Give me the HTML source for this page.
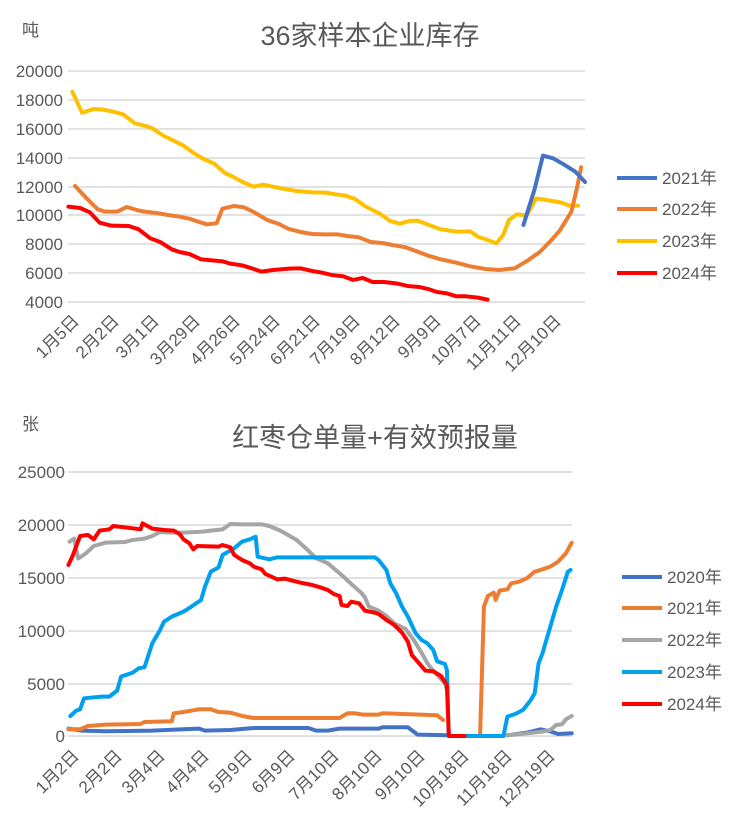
<!DOCTYPE html>
<html><head><meta charset="utf-8"><style>
body{margin:0;background:#fff;}
svg{display:block;font-family:"Liberation Sans","Noto Sans CJK SC",sans-serif;}
.t{fill:#595959;}
.g line{stroke:#d9d9d9;stroke-width:1.5}
polyline{fill:none;stroke-width:4;stroke-linejoin:round;stroke-linecap:round}
</style></head><body>
<svg width="746" height="830" viewBox="0 0 746 830">
<rect width="746" height="830" fill="#fff"/>
<!-- Chart 1 -->
<text class="t" x="370" y="45" font-size="27" text-anchor="middle">36家样本企业库存</text>
<text class="t" x="22" y="36" font-size="17">吨</text>
<g class="g">
<line x1="68" x2="585" y1="71" y2="71"/><line x1="68" x2="585" y1="100" y2="100"/><line x1="68" x2="585" y1="129" y2="129"/><line x1="68" x2="585" y1="158" y2="158"/><line x1="68" x2="585" y1="187" y2="187"/><line x1="68" x2="585" y1="215" y2="215"/><line x1="68" x2="585" y1="244" y2="244"/><line x1="68" x2="585" y1="273" y2="273"/><line x1="68" x2="585" y1="302" y2="302"/>
</g>
<g class="t" font-size="17" text-anchor="end">
<text x="63" y="77">20000</text><text x="63" y="106">18000</text><text x="63" y="135">16000</text><text x="63" y="164">14000</text><text x="63" y="193">12000</text><text x="63" y="221">10000</text><text x="63" y="250">8000</text><text x="63" y="279">6000</text><text x="63" y="308">4000</text>
</g>
<g class="t" font-size="17" text-anchor="end">
<text transform="translate(80,322) rotate(-45)">1月5日</text>
<text transform="translate(120,322) rotate(-45)">2月2日</text>
<text transform="translate(160,322) rotate(-45)">3月1日</text>
<text transform="translate(201,322) rotate(-45)">3月29日</text>
<text transform="translate(241,322) rotate(-45)">4月26日</text>
<text transform="translate(281,322) rotate(-45)">5月24日</text>
<text transform="translate(321,322) rotate(-45)">6月21日</text>
<text transform="translate(361,322) rotate(-45)">7月19日</text>
<text transform="translate(401,322) rotate(-45)">8月12日</text>
<text transform="translate(442,322) rotate(-45)">9月9日</text>
<text transform="translate(482,322) rotate(-45)">10月7日</text>
<text transform="translate(522,322) rotate(-45)">11月11日</text>
<text transform="translate(562,322) rotate(-45)">12月10日</text>
</g>
<g transform="translate(-11.5,60) scale(0.3899,0.3333)">
<polyline vector-effect="non-scaling-stroke" stroke="#ffc000" points="215,95 240,158 270,147 290,148 320,155 345,163 375,190 400,197 420,205 450,228 475,242 500,257 525,278 550,296 580,312 605,338 630,352 655,368 680,380 705,374 730,380 760,387 790,393 830,397 865,398 890,403 915,407 940,417 965,438 990,453 1005,462 1030,483 1055,491 1080,483 1100,482 1130,495 1160,508 1200,515 1235,514 1255,530 1280,540 1303,550 1320,525 1335,480 1355,463 1380,467 1405,415 1440,422 1470,428 1490,437 1512,437"/>
<polyline vector-effect="non-scaling-stroke" stroke="#ed7d31" points="222,378 250,413 280,448 300,455 330,455 355,441 380,450 400,455 430,459 460,465 490,470 515,476 535,484 560,493 585,490 600,446 630,438 655,442 680,456 715,480 745,492 770,507 800,516 830,522 860,523 895,523 920,528 950,532 980,546 1010,549 1040,556 1070,562 1100,575 1130,588 1160,598 1200,608 1235,619 1275,627 1310,630 1350,625 1385,600 1415,575 1440,545 1465,512 1495,455 1510,380 1520,322"/>
<polyline vector-effect="non-scaling-stroke" stroke="#ff0000" points="205,440 235,444 260,457 285,488 315,497 360,498 385,508 415,535 440,546 470,568 490,576 515,582 545,598 580,602 600,604 620,611 650,616 675,625 700,635 730,630 770,626 800,625 830,633 855,638 880,645 910,649 935,660 960,654 985,666 1015,666 1050,671 1075,678 1105,681 1130,688 1150,696 1175,700 1200,709 1225,709 1255,713 1280,719"/>
<polyline vector-effect="non-scaling-stroke" stroke="#4472c4" points="1372,495 1400,390 1422,287 1448,295 1475,313 1505,335 1530,366"/>
</g>
<g font-size="17" class="t">
<line x1="617" x2="657" y1="178" y2="178" stroke="#4472c4" stroke-width="4"/><text x="662" y="184">2021年</text>
<line x1="617" x2="657" y1="209" y2="209" stroke="#ed7d31" stroke-width="4"/><text x="662" y="215">2022年</text>
<line x1="617" x2="657" y1="241" y2="241" stroke="#ffc000" stroke-width="4"/><text x="662" y="247">2023年</text>
<line x1="617" x2="657" y1="273" y2="273" stroke="#ff0000" stroke-width="4"/><text x="662" y="279">2024年</text>
</g>
<!-- Chart 2 -->
<text class="t" x="375" y="447" font-size="27" text-anchor="middle">红枣仓单量+有效预报量</text>
<text class="t" x="22" y="430" font-size="17">张</text>
<g class="g">
<line x1="68" x2="572" y1="472" y2="472"/><line x1="68" x2="572" y1="525" y2="525"/><line x1="68" x2="572" y1="578" y2="578"/><line x1="68" x2="572" y1="631" y2="631"/><line x1="68" x2="572" y1="684" y2="684"/><line x1="68" x2="572" y1="736" y2="736"/>
</g>
<g class="t" font-size="17" text-anchor="end">
<text x="65" y="478">25000</text><text x="65" y="531">20000</text><text x="65" y="584">15000</text><text x="65" y="637">10000</text><text x="65" y="690">5000</text><text x="65" y="742">0</text>
</g>
<g class="t" font-size="17" text-anchor="end">
<text transform="translate(80,757) rotate(-45)">1月2日</text>
<text transform="translate(123,757) rotate(-45)">2月2日</text>
<text transform="translate(166,757) rotate(-45)">3月4日</text>
<text transform="translate(210,757) rotate(-45)">4月4日</text>
<text transform="translate(253,757) rotate(-45)">5月9日</text>
<text transform="translate(296,757) rotate(-45)">6月9日</text>
<text transform="translate(340,757) rotate(-45)">7月10日</text>
<text transform="translate(383,757) rotate(-45)">8月10日</text>
<text transform="translate(426,757) rotate(-45)">9月10日</text>
<text transform="translate(470,757) rotate(-45)">10月18日</text>
<text transform="translate(513,757) rotate(-45)">11月18日</text>
<text transform="translate(556,757) rotate(-45)">12月19日</text>
</g>
<g transform="translate(-11.6,460) scale(0.3902,0.3333)">
<polyline vector-effect="non-scaling-stroke" stroke="#4472c4" points="205,806 240,812 300,814 420,812 500,808 540,806 555,812 620,810 680,804 820,804 840,812 870,812 900,806 1000,806 1010,802 1075,802 1100,824 1175,826"/>
<polyline vector-effect="non-scaling-stroke" stroke="#4472c4" points="1330,826 1380,818 1415,808 1440,814 1460,822 1495,820"/>
<polyline vector-effect="non-scaling-stroke" stroke="#ed7d31" points="205,808 235,808 255,798 300,794 390,792 400,786 470,784 475,760 500,756 540,748 570,748 590,756 620,758 650,768 680,774 900,774 920,760 940,760 960,764 1000,764 1010,760 1150,766 1165,780"/>
<polyline vector-effect="non-scaling-stroke" stroke="#ed7d31" points="1260,828 1270,440 1280,408 1295,398 1300,420 1310,392 1330,388 1340,370 1360,365 1380,355 1400,335 1420,328 1440,320 1460,305 1480,280 1495,248"/>
<polyline vector-effect="non-scaling-stroke" stroke="#a5a5a5" points="208,245 220,236 230,296 250,280 270,258 300,248 350,246 370,240 400,236 420,228 440,216 470,218 500,218 550,215 570,212 600,208 620,192 650,193 700,193 720,198 750,213 790,240 820,272 840,295 870,310 890,330 910,350 930,372 955,398 965,412 975,440 1000,452 1020,468 1040,490 1070,508 1090,540 1110,578 1125,610 1140,632 1170,670 1175,690"/>
<polyline vector-effect="non-scaling-stroke" stroke="#a5a5a5" points="1330,826 1380,820 1420,815 1440,810 1455,795 1470,793 1480,778 1495,768"/>
<polyline vector-effect="non-scaling-stroke" stroke="#00a0f0" points="210,768 225,752 235,748 245,715 290,710 310,710 330,692 340,650 370,638 385,625 400,622 420,550 440,510 450,485 470,470 500,455 520,440 545,420 555,380 570,335 590,322 600,285 630,265 650,245 670,238 685,230 690,290 720,298 740,292 990,292 1000,300 1020,330 1030,370 1045,400 1060,440 1075,470 1095,520 1110,540 1125,550 1140,570 1150,604 1170,612 1175,630 1180,828 1320,828 1330,770 1350,762 1370,750 1390,720 1400,700 1410,610 1420,580 1430,540 1440,500 1455,440 1470,390 1485,335 1492,330"/>
<polyline vector-effect="non-scaling-stroke" stroke="#ff0000" points="205,315 215,290 235,228 255,225 270,238 285,212 310,208 320,198 390,208 395,190 420,206 450,210 475,212 490,222 500,238 515,250 525,268 535,258 590,260 600,255 620,262 630,285 650,300 670,310 680,320 700,328 710,342 740,358 760,356 780,362 800,368 830,375 850,382 870,390 885,402 900,408 905,435 920,438 930,425 950,430 965,452 990,458 1000,462 1020,480 1040,495 1060,518 1075,545 1085,585 1100,605 1120,632 1140,634 1160,648 1175,675 1180,828 1220,828"/>
</g>
<g font-size="17" class="t">
<line x1="622" x2="662" y1="577" y2="577" stroke="#4472c4" stroke-width="4"/><text x="667" y="583">2020年</text>
<line x1="622" x2="662" y1="608" y2="608" stroke="#ed7d31" stroke-width="4"/><text x="667" y="614">2021年</text>
<line x1="622" x2="662" y1="640" y2="640" stroke="#a5a5a5" stroke-width="4"/><text x="667" y="646">2022年</text>
<line x1="622" x2="662" y1="672" y2="672" stroke="#00a0f0" stroke-width="4"/><text x="667" y="678">2023年</text>
<line x1="622" x2="662" y1="704" y2="704" stroke="#ff0000" stroke-width="4"/><text x="667" y="710">2024年</text>
</g>
</svg>
</body></html>
